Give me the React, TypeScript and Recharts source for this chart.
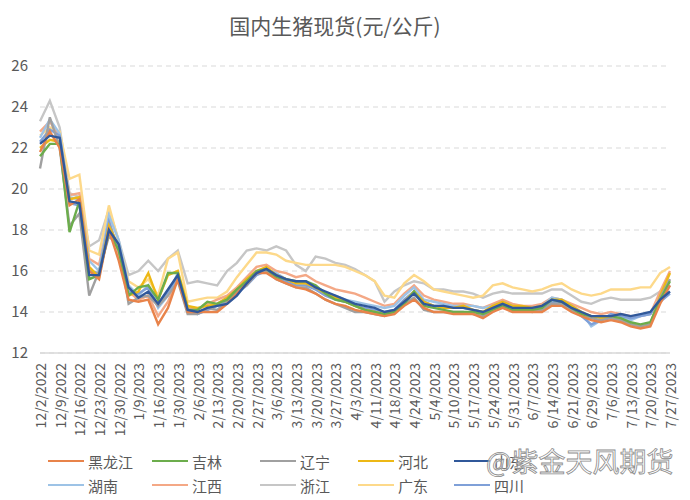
import React from 'react';
import { LineChart, Line, XAxis, YAxis, CartesianGrid } from 'recharts';

const categories = [
  '12/2/2022', '12/6/2022', '12/9/2022', '12/13/2022', '12/16/2022', '12/20/2022', '12/23/2022', '12/27/2022',
  '12/30/2022', '1/4/2023', '1/9/2023', '1/12/2023', '1/16/2023', '1/19/2023', '1/30/2023', '2/2/2023',
  '2/6/2023', '2/9/2023', '2/13/2023', '2/16/2023', '2/20/2023', '2/23/2023', '2/27/2023', '3/2/2023',
  '3/6/2023', '3/9/2023', '3/13/2023', '3/16/2023', '3/20/2023', '3/23/2023', '3/27/2023', '3/30/2023',
  '4/3/2023', '4/6/2023', '4/11/2023', '4/13/2023', '4/18/2023', '4/20/2023', '4/24/2023', '4/27/2023',
  '5/4/2023', '5/8/2023', '5/10/2023', '5/15/2023', '5/17/2023', '5/22/2023', '5/24/2023', '5/26/2023',
  '5/31/2023', '6/2/2023', '6/7/2023', '6/12/2023', '6/14/2023', '6/19/2023', '6/21/2023', '6/26/2023',
  '6/29/2023', '7/3/2023', '7/6/2023', '7/10/2023', '7/13/2023', '7/17/2023', '7/20/2023', '7/24/2023',
  '7/27/2023',
];

const heilongjiang = [
  21.8, 22.8, 22.0, 19.2, 19.5, 16.0, 15.6, 18.0, 16.5, 14.6,
  14.5, 14.6, 13.4, 14.2, 15.6, 14.0, 14.0, 14.0, 14.0, 14.4,
  14.9, 15.4, 15.9, 15.9, 15.6, 15.4, 15.2, 15.1, 14.9, 14.6,
  14.4, 14.3, 14.1, 14.0, 13.9, 13.8, 13.9, 14.3, 14.6, 14.2,
  14.0, 14.0, 13.9, 13.9, 13.9, 13.7, 14.0, 14.2, 14.0, 14.0,
  14.0, 14.0, 14.3, 14.3, 14.0, 13.8, 13.6, 13.5, 13.6, 13.5,
  13.3, 13.2, 13.3, 14.4, 15.3,
];
const jilin = [
  21.6, 22.2, 22.2, 17.9, 19.4, 15.6, 15.8, 17.9, 17.0, 14.8,
  15.2, 15.3, 14.6, 15.9, 15.9, 14.1, 14.1, 14.5, 14.4, 14.6,
  15.1, 15.5, 16.0, 16.1, 15.7, 15.6, 15.5, 15.5, 15.3, 14.9,
  14.6, 14.5, 14.3, 14.1, 14.0, 13.9, 14.0, 14.4, 15.0, 14.3,
  14.2, 14.1, 14.0, 14.0, 14.0, 13.9, 14.1, 14.3, 14.1, 14.1,
  14.1, 14.2, 14.6, 14.5, 14.2, 13.9, 13.8, 13.8, 13.8, 13.7,
  13.5, 13.4, 13.5, 14.6, 15.5,
];
const liaoning = [
  21.0, 23.5, 22.0, 18.2, 18.8, 14.8, 16.0, 17.7, 17.2, 14.4,
  14.7, 14.8, 14.3, 14.8, 15.5, 13.9, 13.9, 14.2, 14.1, 14.5,
  15.0, 15.3, 15.9, 16.0, 15.6, 15.4, 15.2, 15.2, 14.9, 14.6,
  14.4, 14.2, 14.0, 14.0, 13.9, 13.8, 14.0, 14.4, 14.7, 14.1,
  14.0, 14.0, 14.0, 14.0, 13.9, 13.8, 14.1, 14.3, 14.1, 14.1,
  14.0, 14.1, 14.4, 14.4, 14.1, 13.9, 13.7, 13.6, 13.7, 13.6,
  13.4, 13.3, 13.4, 14.7, 15.6,
];
const hebei = [
  22.0, 22.4, 22.3, 19.5, 19.6, 16.2, 15.7, 18.2, 17.2, 14.8,
  15.0, 15.9, 14.6, 15.8, 16.0, 14.3, 14.2, 14.3, 14.4, 14.7,
  15.1, 15.6, 16.0, 16.2, 15.8, 15.6, 15.4, 15.4, 15.2, 14.9,
  14.7, 14.5, 14.3, 14.1, 14.0, 13.9, 14.0, 14.5, 15.0, 14.5,
  14.3, 14.2, 14.2, 14.3, 14.1, 14.0, 14.3, 14.5, 14.3, 14.3,
  14.2, 14.3, 14.6, 14.6, 14.3, 14.0, 13.8, 13.7, 13.7, 13.6,
  13.4, 13.3, 13.4, 14.8, 15.9,
];
const shandong = [
  22.2, 22.6, 22.5, 19.4, 19.3, 15.8, 15.8, 18.0, 17.3, 15.2,
  14.7, 15.0, 14.4, 15.1, 15.8, 14.1, 14.0, 14.2, 14.3, 14.4,
  14.8, 15.4, 15.9, 16.1, 15.8, 15.6, 15.5, 15.5, 15.2, 15.0,
  14.8, 14.6, 14.4, 14.3, 14.2, 14.0, 14.1, 14.5, 14.9, 14.4,
  14.3, 14.3, 14.2, 14.2, 14.1, 14.0, 14.2, 14.4, 14.2, 14.2,
  14.2, 14.3, 14.6, 14.5, 14.2, 14.0, 13.8, 13.8, 13.8, 13.9,
  13.8, 13.9, 14.0, 14.6, 15.0,
];
const hunan = [
  22.5, 23.4, 22.7, 19.6, 19.5, 16.5, 16.0, 18.7, 17.5, 15.3,
  14.8, 15.3, 14.2, 14.8, 15.9, 14.0, 13.9, 14.1, 14.4, 14.7,
  15.0, 15.5, 16.0, 16.1, 15.9, 15.6, 15.4, 15.4, 15.1, 14.9,
  14.8, 14.6, 14.5, 14.4, 14.3, 14.2, 14.3, 14.8, 15.2, 14.6,
  14.5, 14.4, 14.3, 14.3, 14.3, 14.2, 14.3, 14.5, 14.3, 14.2,
  14.2, 14.3, 14.7, 14.6, 14.3, 14.0, 13.3, 13.6, 13.8, 13.7,
  13.6, 13.8, 13.9, 14.7, 15.3,
];
const jiangxi = [
  22.8, 23.3, 22.5, 19.7, 19.8, 16.6, 16.3, 18.5, 16.8, 15.0,
  14.6, 14.8, 13.8, 14.5, 15.6, 14.2, 14.1, 14.4, 14.6, 14.8,
  15.2, 15.7, 16.2, 16.3, 16.0, 15.9, 15.7, 15.8, 15.5, 15.3,
  15.1, 15.0, 14.9, 14.7, 14.5, 14.3, 14.4, 14.9, 15.3, 14.8,
  14.6, 14.5, 14.4, 14.4, 14.3, 14.2, 14.4, 14.6, 14.4, 14.3,
  14.3, 14.4, 14.7, 14.6, 14.4, 14.2, 14.0, 13.9, 14.0, 13.9,
  13.8, 13.8, 13.9, 15.0, 16.0,
];
const zhejiang = [
  23.3, 24.3, 23.0, 19.8, 19.6, 17.2, 17.5, 19.0, 17.5, 15.8,
  16.0, 16.5, 16.0, 16.6, 17.0, 15.4, 15.5, 15.4, 15.3, 16.0,
  16.4, 17.0, 17.1, 17.0, 17.2, 17.0, 16.3, 16.0, 16.7, 16.6,
  16.4, 16.3, 16.1, 15.8, 15.5, 14.5, 15.0, 15.3, 15.5, 15.4,
  15.1, 15.1, 15.0, 15.0, 14.9, 14.7, 14.9, 15.0, 14.9, 14.9,
  14.9, 14.9, 15.1, 15.1, 14.8, 14.5, 14.4, 14.6, 14.7, 14.6,
  14.6, 14.6, 14.7, 15.0, 15.6,
];
const guangdong = [
  22.6, 23.0, 22.8, 20.5, 20.7, 17.0, 16.8, 19.2, 17.4, 15.5,
  15.2, 15.6, 14.8, 16.6, 16.9, 14.5, 14.6, 14.7, 14.7, 15.0,
  15.7, 16.3, 16.9, 16.9, 16.8, 16.5, 16.4, 16.3, 16.3, 16.3,
  16.3, 16.2, 16.0, 15.8, 15.5, 14.8, 14.7, 15.4, 15.8, 15.5,
  15.1, 15.0, 14.9, 14.8, 14.7, 14.8, 15.3, 15.4, 15.2, 15.1,
  15.0, 15.1, 15.3, 15.4, 15.1, 14.9, 14.8, 14.9, 15.1, 15.1,
  15.1, 15.2, 15.2, 15.9, 16.2,
];
const sichuan = [
  22.3, 22.9, 22.6, 19.3, 19.2, 16.0, 15.9, 18.4, 17.0, 15.0,
  14.9, 15.2, 14.3, 15.0, 15.7, 14.0, 13.9, 14.1, 14.3, 14.5,
  14.9, 15.3, 15.8, 16.0, 15.7, 15.5, 15.3, 15.3, 15.1, 14.8,
  14.6, 14.5, 14.3, 14.2, 14.1, 14.0, 14.1, 14.6, 15.0, 14.5,
  14.3, 14.3, 14.2, 14.2, 14.1, 14.0, 14.2, 14.4, 14.2, 14.2,
  14.1, 14.2, 14.5, 14.4, 14.1, 13.8, 13.4, 13.6, 13.9, 13.8,
  13.7, 13.8, 13.9, 14.5, 14.9,
];

const yTicks = [12, 14, 16, 18, 20, 22, 24, 26];

const seriesList = [
  { key: 'hlj', name: '黑龙江', values: heilongjiang, color: '#E8834A' },
  { key: 'jl', name: '吉林', values: jilin, color: '#6CAD4C' },
  { key: 'ln', name: '辽宁', values: liaoning, color: '#A0A0A0' },
  { key: 'hb', name: '河北', values: hebei, color: '#EDB815' },
  { key: 'sd', name: '山东', values: shandong, color: '#30589A' },
  { key: 'hn', name: '湖南', values: hunan, color: '#9DC3E6' },
  { key: 'jx', name: '江西', values: jiangxi, color: '#F4A886' },
  { key: 'zj', name: '浙江', values: zhejiang, color: '#C6C6C6' },
  { key: 'gd', name: '广东', values: guangdong, color: '#FDD98A' },
  { key: 'sc', name: '四川', values: sichuan, color: '#7FA0D8' },
];

const data = categories.map((date, i) => {
  const row: Record<string, string | number> = { date };
  seriesList.forEach((s) => {
    row[s.key] = s.values[i];
  });
  return row;
});

const FONT = '"Noto Sans CJK SC", "Noto Sans", sans-serif';

const XTick = (props: any) => {
  const { x, y, payload } = props;
  const ty = y + 8;
  return (
    <text
      x={x}
      y={ty}
      transform={`rotate(-90, ${x}, ${ty})`}
      textAnchor="end"
      dominantBaseline="central"
      fontSize={14}
      fill="#595959"
      fontFamily={FONT}
    >
      {payload.value}
    </text>
  );
};

const drawOrder = ['zj', 'gd', 'jx', 'hn', 'sc', 'hb', 'ln', 'jl', 'hlj', 'sd'];

export default function App() {
  const ordered = drawOrder.map((k) => seriesList.find((s) => s.key === k)!);
  const colX = [48, 152, 260, 358, 454];
  const rowY = [461, 485];
  return (
    <div style={{ position: 'absolute', left: 0, top: 0, width: 690, height: 500, background: '#fff', fontFamily: FONT }}>
      <div
        style={{
          position: 'absolute',
          left: 0,
          top: 13,
          width: 670,
          textAlign: 'center',
          fontSize: 21,
          lineHeight: '24px',
          color: '#595959',
        }}
      >
        国内生猪现货(元/公斤)
      </div>
      <LineChart width={690} height={500} data={data} margin={{ top: 66, right: 20, left: 0, bottom: 57 }}>
        <CartesianGrid vertical={false} stroke="#D9D9D9" strokeDasharray="5 4" />
        <XAxis
          dataKey="date"
          interval={1}
          tick={<XTick />}
          tickLine={false}
          tickSize={0}
          height={90}
          axisLine={{ stroke: '#D9D9D9', strokeWidth: 1.5 }}
        />
        <YAxis
          domain={[12, 26]}
          ticks={yTicks}
          width={40}
          axisLine={false}
          tickLine={false}
          tickSize={0}
          tickMargin={12}
          tick={{ fontSize: 15, fill: '#595959', fontFamily: FONT }}
        />
        {ordered.map((s) => (
          <Line
            key={s.key}
            type="linear"
            dataKey={s.key}
            name={s.name}
            stroke={s.color}
            strokeWidth={2.4}
            dot={false}
            isAnimationActive={false}
          />
        ))}
      </LineChart>
      {seriesList.map((s, i) => {
        const col = i % 5;
        const row = Math.floor(i / 5);
        return (
          <div
            key={s.key}
            style={{
              position: 'absolute',
              left: colX[col],
              top: rowY[row] - 10,
              height: 20,
              display: 'flex',
              alignItems: 'center',
              fontSize: 15,
              color: '#595959',
            }}
          >
            <span style={{ display: 'inline-block', width: 36, height: 2.5, background: s.color, marginRight: 4 }} />
            <span>{s.name}</span>
          </div>
        );
      })}
      <div
        style={{
          position: 'absolute',
          left: 486,
          top: 445,
          fontSize: 27,
          lineHeight: '32px',
          color: 'rgba(255,255,255,0.55)',
          WebkitTextStroke: '0.8px #8c8c8c',
          whiteSpace: 'nowrap',
        }}
      >
        @紫金天风期货
      </div>
    </div>
  );
}
